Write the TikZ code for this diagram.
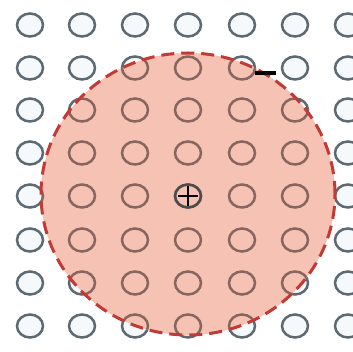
\documentclass[tikz,border=0pt]{standalone}
\usetikzlibrary{shapes.geometric}
\definecolor{ringgray}{HTML}{5E6A72}
\definecolor{ringbrown}{HTML}{86665F}
\definecolor{pinkfill}{HTML}{F6C2B3}
\definecolor{dashred}{HTML}{C23A35}
\definecolor{ringin}{HTML}{F6F9FB}
\begin{document}
\begin{tikzpicture}[x=1pt,y=-1pt,
  ring/.style={draw=ringgray,line width=2.5pt,ellipse,minimum width=26pt,minimum height=23pt,inner sep=0pt,fill=ringin},
  ringin/.style={draw=ringbrown,line width=2.5pt,ellipse,minimum width=26pt,minimum height=23pt,inner sep=0pt},
  cloudfill/.style={fill=pinkfill,ellipse,minimum width=294pt,minimum height=282pt,inner sep=0pt},
  cloudline/.style={draw=dashred,line width=3pt,dash pattern=on 13pt off 7pt,ellipse,minimum width=294pt,minimum height=282pt,inner sep=0pt}]
\useasboundingbox[fill=white] (0,0) rectangle (353,352);
\foreach \i/\x in {1/30,2/82,3/135,4/188,5/242,6/295,7/348}{
  \foreach \j/\y in {1/25,2/68,3/110,4/153,5/196,6/240,7/283,8/326}{
    \node[ring] (r-\i-\j) at (\x,\y) {};
  }
}
\node[cloudfill] (big) at (188,194) {};
\begin{scope}
  \clip (188,194) ellipse [x radius=147, y radius=141];
  \foreach \x in {30,82,135,188,242,295,348}{
    \foreach \y in {25,68,110,153,196,240,283,326}{
      \node[ringin] at (\x,\y) {};
    }
  }
\end{scope}
\node[ring,draw=black!70,fill=none] (center) at (188,196) {};
\draw[black,line width=2.4pt] (178,196) -- (198,196) (188,186) -- (188,206);
\node[cloudline] (bigline) at (188,194) {};
\draw[black,line width=3.2pt] (255,73) -- (276,73);
\end{tikzpicture}
\end{document}
